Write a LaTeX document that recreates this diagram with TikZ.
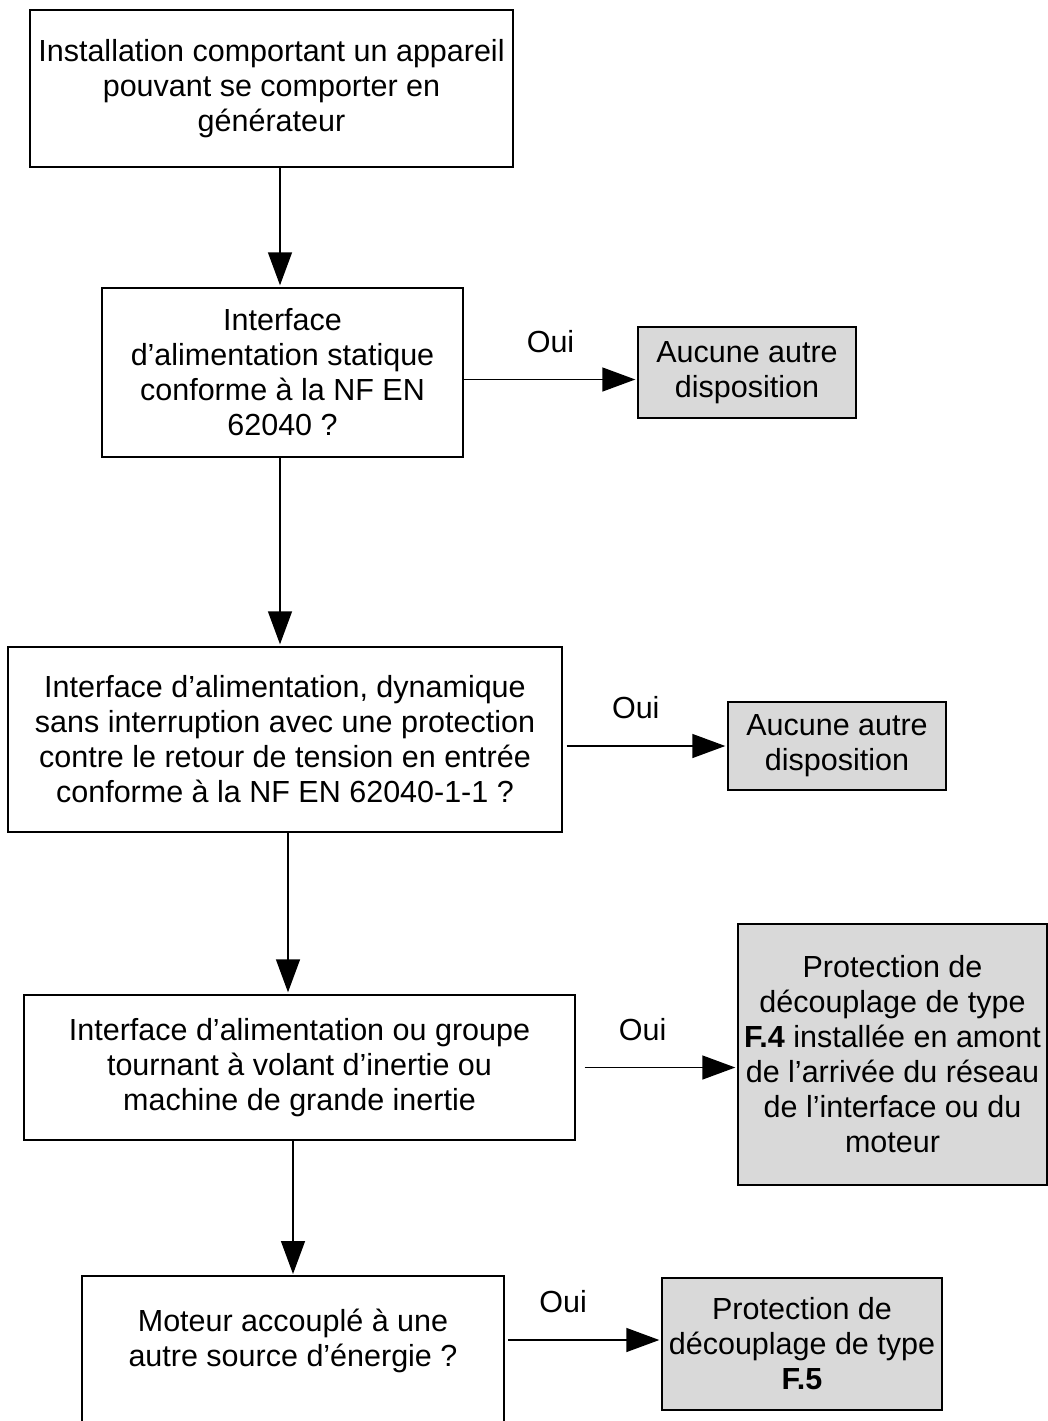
\documentclass[tikz,border=0pt]{standalone}
\usepackage{fontspec}
\setmainfont{Liberation Sans}
\usetikzlibrary{arrows.meta,positioning}
\definecolor{boxgray}{RGB}{217,217,217}
\tikzset{>={Triangle[length=33pt,width=24pt]}}
\tikzset{
	txt/.style={font=\fontsize{30.5}{35}\selectfont, align=center, inner sep=0pt},
	qbox/.style={txt, draw, line width=1.4pt},
	rbox/.style={qbox, fill=boxgray},
	arr/.style={->, line width=1.4pt, shorten >=2pt},
	oui/.style={txt, pos=#1, yshift=38pt}
}

\begin{document}
\begin{tikzpicture}[x=1pt,y=-1pt]
	\useasboundingbox (0,0) rectangle (1048,1421);
	% questions
	\node[qbox, minimum width=483pt, minimum height=157pt] (inst) at (271.5,88.5)
		{Installation comportant un appareil\\pouvant se comporter en\\générateur};
	\node[qbox, minimum width=361pt, minimum height=169pt] (stat) at (282.5,372.5)
		{Interface\\d’alimentation statique\\conforme à la NF EN\\62040 ?};
	\node[qbox, minimum width=554pt, minimum height=185pt] (dyn) at (285,739.5)
		{Interface d’alimentation, dynamique\\sans interruption avec une protection\\contre le retour de tension en entrée\\conforme à la NF EN 62040-1-1 ?};
	\node[qbox, minimum width=551pt, minimum height=145pt] (inert) at (299.5,1067.5)
		{Interface d’alimentation ou groupe\\tournant à volant d’inertie ou\\machine de grande inertie};
	\node[txt] (moteur) at (293,1341)
		{Moteur accouplé à une\\autre source d’énergie ?};
	\draw[line width=1.4pt] (82,1440) |- (504,1276) -- (504,1440);
	% reponses
	\node[rbox, minimum width=218pt, minimum height=91pt] (none1) at (747,372.5)
		{Aucune autre\\disposition};
	\node[rbox, minimum width=218pt, minimum height=88pt] (none2) at (837,746)
		{Aucune autre\\disposition};
	\node[rbox, minimum width=309pt, minimum height=261pt] (prot4) at (892.5,1054.5)
		{Protection de\\découplage de type\\\textbf{F.4} installée en amont\\de l’arrivée du réseau\\de l’interface ou du\\moteur};
	\node[rbox, minimum width=280pt, minimum height=132pt] (prot5) at (802,1344)
		{Protection de\\découplage de type\\\textbf{F.5}};
	% fleches
	\draw[arr] ([xshift=-2.5pt]inst.south -| stat.north) -- ([xshift=-2.5pt]stat.north);
	\draw[arr] ([xshift=-2.5pt]stat.south) -- ([xshift=-2.5pt]stat.south |- dyn.north);
	\draw[arr] ([xshift=3pt]dyn.south) -- ([xshift=3pt]dyn.south |- inert.north);
	\draw[arr] (inert.south -| moteur) -- (moteur |- 0,1276);
	\draw[arr] ([yshift=-7pt]stat.east) -- node[oui=.5] {Oui} ([yshift=-7pt]stat.east -| none1.west);
	\draw[arr] ([xshift=4pt]dyn.east |- none2) -- node[oui=.43] {Oui} (none2.west);
	\draw[arr] ([xshift=9pt]inert.east) -- node[oui=.38] {Oui} (inert.east -| prot4.west);
	\draw[arr] (508,1340) -- node[oui=.36] {Oui} (prot5.west |- 0,1340);
\end{tikzpicture}
\end{document}
